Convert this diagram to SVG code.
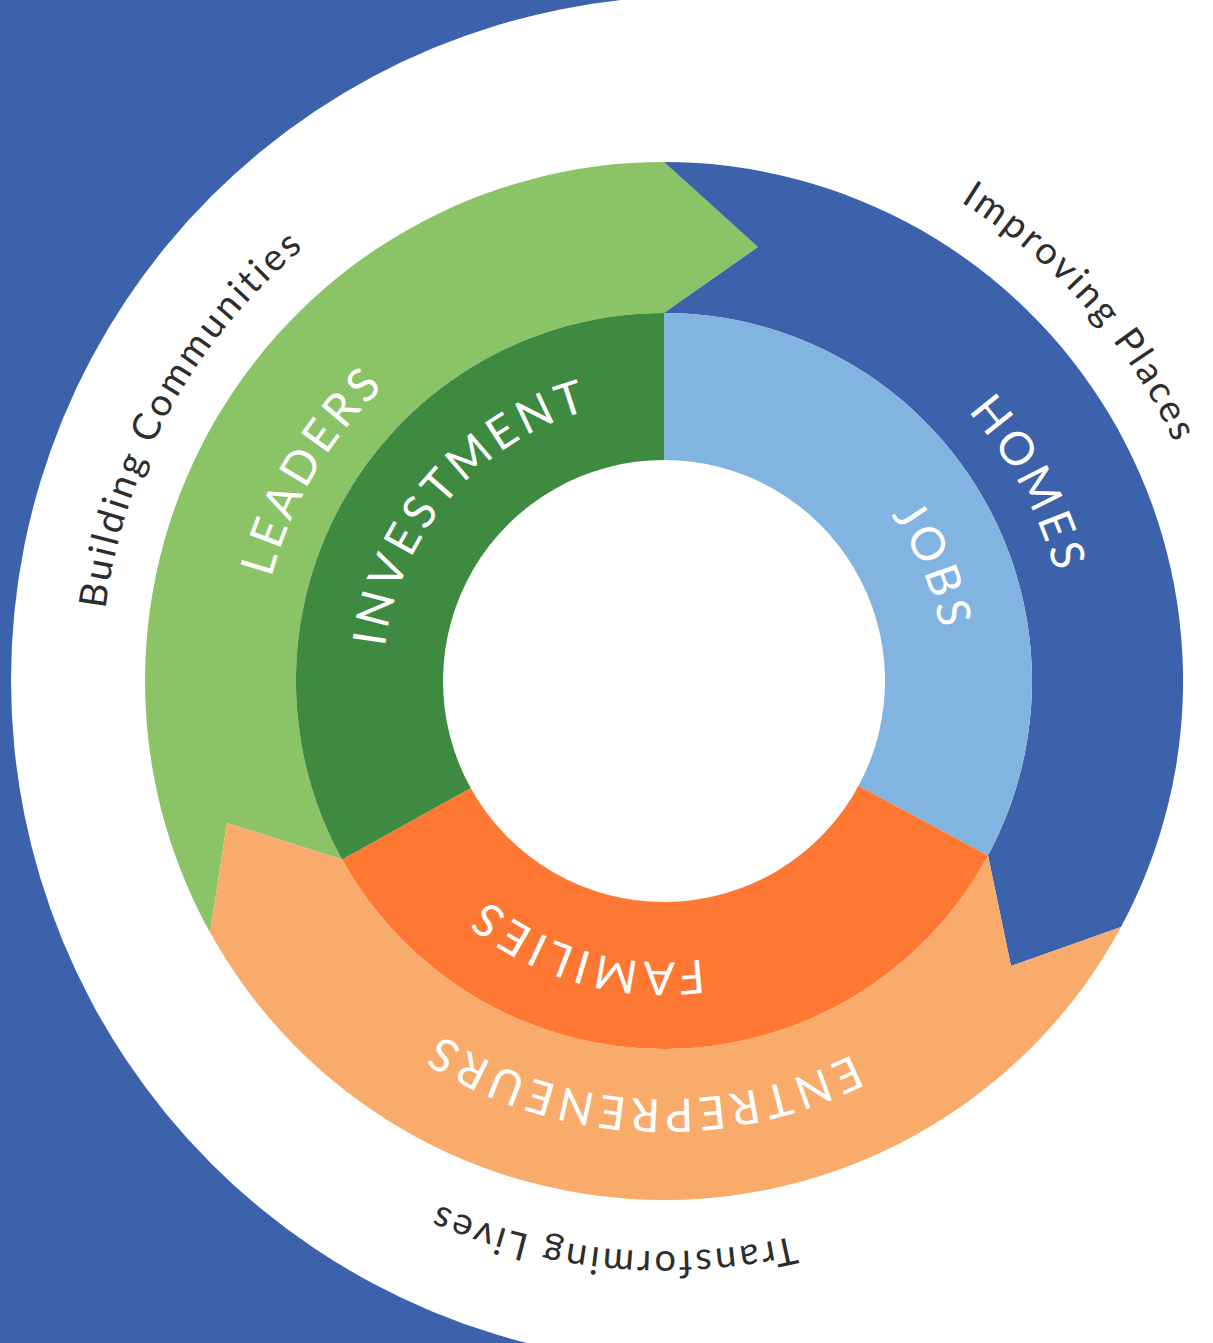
<svg xmlns="http://www.w3.org/2000/svg" xmlns:xlink="http://www.w3.org/1999/xlink" width="1213" height="1343" viewBox="0 0 1213 1343">
  <style>
    .wt { fill: #ffffff; font-family: Lato, "Noto Sans", "Liberation Sans", sans-serif; font-size: 46px; font-weight: 400; letter-spacing: 4.5px; }
    .dk { fill: #2d2d2d; font-family: Lato, "Noto Sans", "Liberation Sans", sans-serif; font-size: 38px; font-weight: 400; letter-spacing: 3px; }
  </style>
  <defs>
    <path id="arc281" d="M 387.3,729.8 A 281 281 0 1 1 940.7,729.8"/>
    <path id="arc406" d="M 264.2,751.5 A 406 406 0 1 1 1063.8,751.5"/>
    <path id="arc418" d="M 252.4,753.6 A 418 418 0 1 1 1075.6,753.6"/>
    <path id="arc563" d="M 109.6,778.8 A 563 563 0 1 1 1218.4,778.8"/>
    <path id="arc570" d="M 102.7,780.0 A 570 570 0 1 1 1225.3,780.0"/>
  </defs>

  <rect id="background" x="0" y="0" width="1213" height="1343" fill="#ffffff"/>
  <rect id="blue-band" x="0" y="0" width="695" height="1343" fill="#3D62AC"/>
  <circle id="white-disc" cx="695" cy="680" r="684" fill="#ffffff"/>

  <g id="node-leaders">
    <path fill="#8AC467" d="M 210.1,932.6 A 519 519 0 0 1 664,162 L 758,247 L 664,313 A 368 368 0 0 0 342.1,859.4 L 227,823 Z"/>
  </g>
  <g id="node-homes">
    <path fill="#3D62AC" d="M 664,162 A 519 519 0 0 1 1121.0,927.1 L 1011,966 L 988.0,855.5 A 368 368 0 0 0 664,313 L 758,247 Z"/>
  </g>
  <g id="node-entrepreneurs">
    <path fill="#F8AB6B" d="M 1121.0,927.1 A 519 519 0 0 1 210.1,932.6 L 227,823 L 342.1,859.4 A 368 368 0 0 0 988.0,855.5 L 1011,966 Z"/>
  </g>
  <g id="node-jobs">
    <path fill="#82B4E2" d="M 664,313 A 368 368 0 0 1 988.0,855.5 L 858.6,785.8 A 221 221 0 0 0 664,460 Z"/>
  </g>
  <g id="node-families">
    <path fill="#FF7833" d="M 988.0,855.5 A 368 368 0 0 1 342.1,859.4 L 470.7,788.1 A 221 221 0 0 0 858.6,785.8 Z"/>
  </g>
  <g id="node-investment">
    <path fill="#3E8A40" d="M 342.1,859.4 A 368 368 0 0 1 664,313 L 664,460 A 221 221 0 0 0 470.7,788.1 Z"/>
  </g>

  <g id="labels">
    <text class="wt" transform="rotate(61.7 664 681)"><textPath xlink:href="#arc406" href="#arc406" startOffset="50%" text-anchor="middle">HOMES</textPath></text>
    <text class="wt" transform="rotate(67 664 681)"><textPath xlink:href="#arc281" href="#arc281" startOffset="50%" text-anchor="middle">JOBS</textPath></text>
    <text class="wt" transform="rotate(-49 664 681)"><textPath xlink:href="#arc281" href="#arc281" startOffset="50%" text-anchor="middle">INVESTMENT</textPath></text>
    <text class="wt" transform="rotate(-59.2 664 681)"><textPath xlink:href="#arc406" href="#arc406" startOffset="50%" text-anchor="middle">LEADERS</textPath></text>
    <text class="wt" transform="rotate(195.9 664 681)"><textPath xlink:href="#arc281" href="#arc281" startOffset="50%" text-anchor="middle">FAMILIES</textPath></text>
    <text class="wt" transform="rotate(183 664 681)"><textPath xlink:href="#arc418" href="#arc418" startOffset="50%" text-anchor="middle">ENTREPRENEURS</textPath></text>
    <text class="dk" transform="rotate(48.5 664 681)"><textPath xlink:href="#arc563" href="#arc563" startOffset="50%" text-anchor="middle">Improving Places</textPath></text>
    <text class="dk" transform="rotate(-61.1 664 681)"><textPath xlink:href="#arc563" href="#arc563" startOffset="50%" text-anchor="middle">Building Communities</textPath></text>
    <text class="dk" transform="rotate(185.2 664 681)"><textPath xlink:href="#arc570" href="#arc570" startOffset="50%" text-anchor="middle">Transforming Lives</textPath></text>
  </g>
</svg>
